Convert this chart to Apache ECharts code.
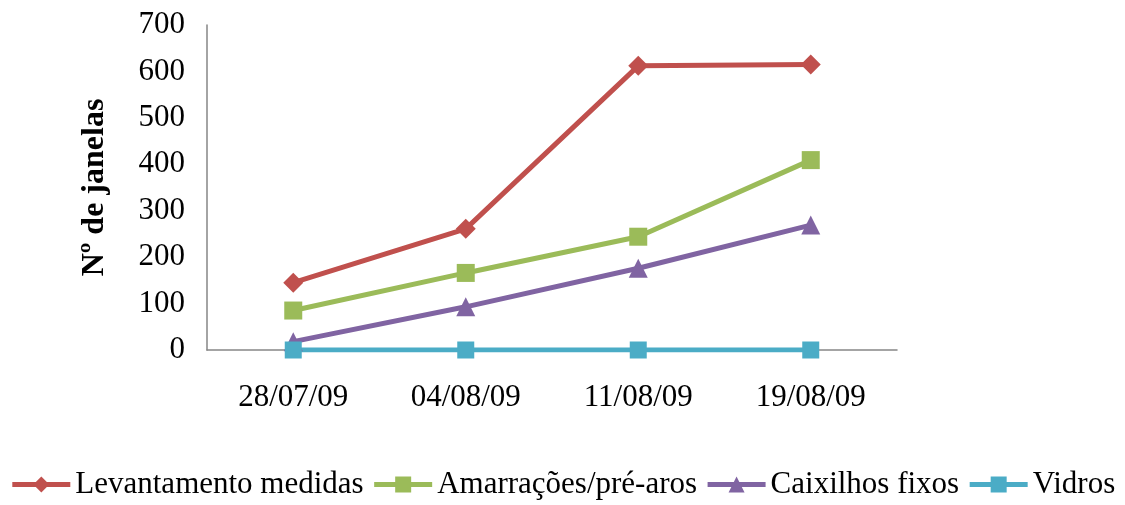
<!DOCTYPE html>
<html>
<head>
<meta charset="utf-8">
<script src="https://cdn.jsdelivr.net/npm/echarts@6/dist/echarts.min.js"></script>
<style>
  html, body { margin: 0; padding: 0; background: #fff; }
  #chart { width: 1125px; height: 505px; }
</style>
</head>
<body>
<div id="chart"></div>
<script>
// Window counts per inspection date
const dates = ['28/07/09', '04/08/09', '11/08/09', '19/08/09'];
const levantamento = [145, 261, 612, 615];
const amarracoes = [85, 166, 244, 409];
const caixilhos = [18, 93, 176, 269];
const vidros = [0, 0, 0, 0];
const yTicks = [0, 100, 200, 300, 400, 500, 600, 700];

const font = '"Liberation Serif", "Times New Roman", serif';

function lineSeries(name, data, color, symbol, size) {
  return {
    name, type: 'line', data,
    symbol, symbolSize: size,
    lineStyle: { color, width: 5 },
    itemStyle: { color },
    emphasis: { disabled: true },
    z: 3
  };
}

const chart = echarts.init(document.getElementById('chart'));
chart.setOption({
  animation: false,
  textStyle: { fontFamily: font },
  grid: { left: 207, right: 228, top: 25, bottom: 155 },
  legend: {
    bottom: 0, left: 'center',
    itemWidth: 58, itemHeight: 20, itemGap: 8,
    lineStyle: { width: 5 },
    textStyle: { fontFamily: font, fontSize: 31, color: '#000' },
    data: ['Levantamento medidas', 'Amarrações/pré-aros', 'Caixilhos fixos', 'Vidros']
  },
  xAxis: {
    type: 'category', data: dates, boundaryGap: true,
    axisLine: { lineStyle: { color: '#868686', width: 1.5 } },
    axisTick: { show: false },
    axisLabel: { fontFamily: font, fontSize: 31, color: '#000', margin: 32 }
  },
  yAxis: {
    type: 'value', min: yTicks[0], max: yTicks[yTicks.length - 1], interval: 100,
    name: 'Nº de janelas', nameLocation: 'middle', nameGap: 96, nameRotate: 90,
    nameTextStyle: { fontFamily: font, fontSize: 32, fontWeight: 'bold', color: '#000', letterSpacing: 6 },
    axisLine: { show: true, lineStyle: { color: '#868686', width: 1.5 } },
    axisTick: { show: false },
    splitLine: { show: false },
    axisLabel: { fontFamily: font, fontSize: 31, color: '#000', margin: 22 }
  },
  series: [
    lineSeries('Levantamento medidas', levantamento, '#C0504D', 'diamond', 20),
    lineSeries('Amarrações/pré-aros', amarracoes, '#9BBB59', 'rect', 18),
    lineSeries('Caixilhos fixos', caixilhos, '#8064A2', 'triangle', 19),
    lineSeries('Vidros', vidros, '#4BACC6', 'rect', 17)
  ]
});
</script>
</body>
</html>
